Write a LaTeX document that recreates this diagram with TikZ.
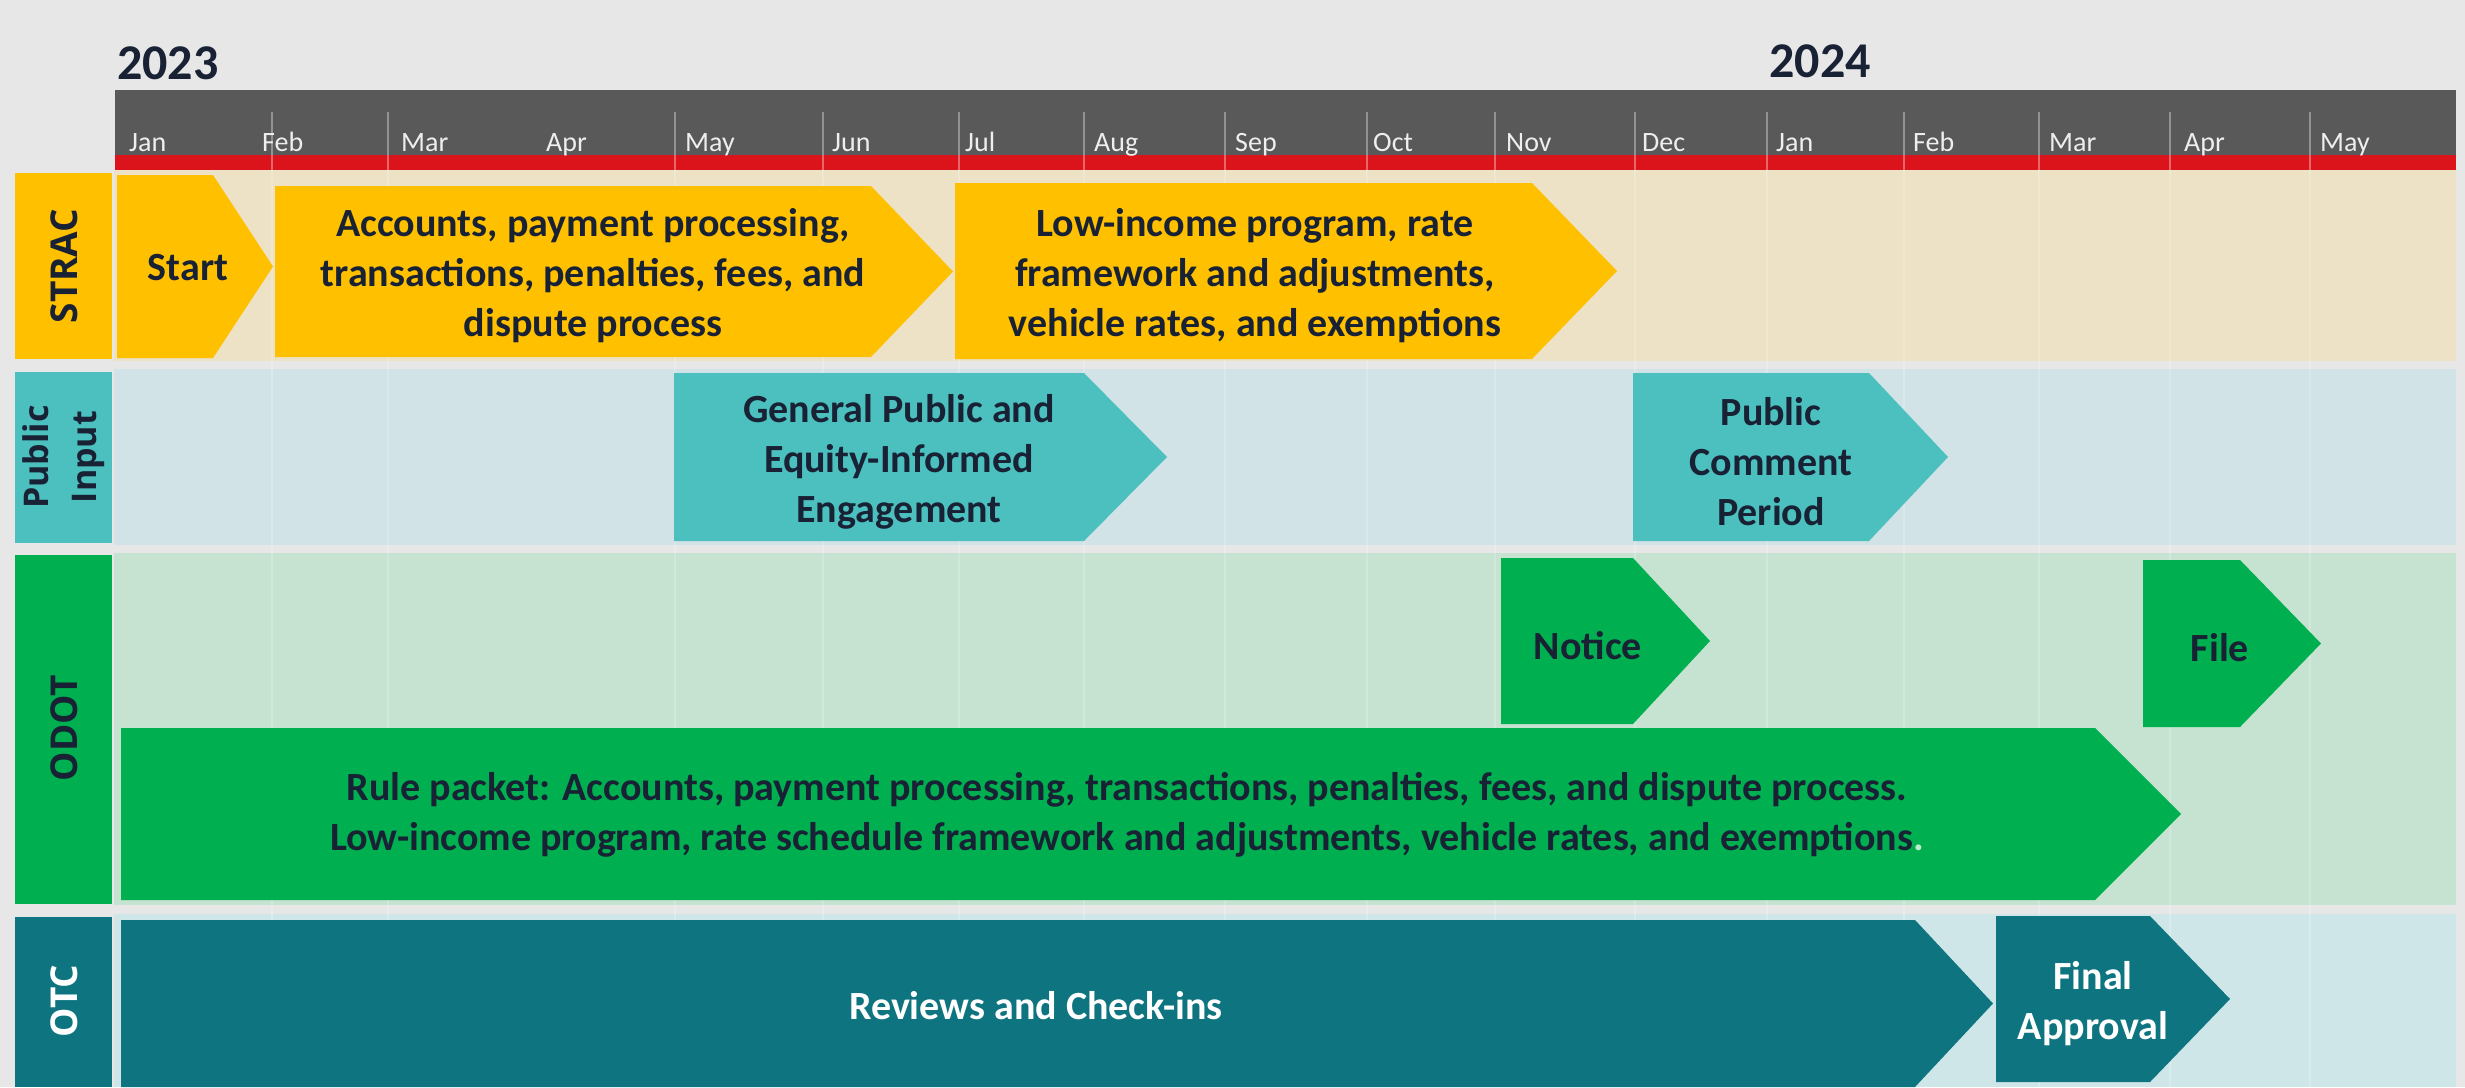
\documentclass[tikz,border=0pt]{standalone}
\usepackage{fontspec}
\setmainfont{Carlito}
\newfontfamily\lanefont{Open Sans}
\definecolor{pagebg}{RGB}{231,231,231}
\definecolor{hdrgray}{RGB}{89,89,89}
\definecolor{hdrred}{RGB}{218,20,26}
\definecolor{amber}{RGB}{255,192,0}
\definecolor{strbg}{RGB}{237,225,198}
\definecolor{teal}{RGB}{75,192,191}
\definecolor{pubbg}{RGB}{209,227,230}
\definecolor{odgreen}{RGB}{0,176,80}
\definecolor{odbg}{RGB}{197,227,208}
\definecolor{dkteal}{RGB}{14,116,128}
\definecolor{otcbg}{RGB}{207,230,233}
\definecolor{txtdark}{RGB}{24,34,52}
\definecolor{monthtxt}{RGB}{238,238,238}
\definecolor{faintdot}{RGB}{190,235,205}
\begin{document}
\begin{tikzpicture}[x=1pt,y=-1pt,
  boxtxt/.style={font=\bfseries\fontsize{40}{50}\selectfont, text=txtdark, align=center, inner sep=0pt},
  whitetxt/.style={boxtxt, text=white},
  monthlbl/.style={font=\fontsize{28}{30}\selectfont, text=monthtxt, anchor=base west, inner sep=0pt},
  yearlbl/.style={font=\bfseries\fontsize{50}{56}\selectfont, text=txtdark, inner sep=0pt},
  lanelbl/.style={font=\lanefont\bfseries\fontsize{37}{47}\selectfont, rotate=90, align=center, text=txtdark, inner sep=0pt},
  gridln/.style={white, opacity=0.35, line width=1.5pt},
  lanegrid/.style={white, opacity=0.2, line width=1.5pt}]
\useasboundingbox (0,0) rectangle (2465,1087);
\fill[pagebg] (0,0) rectangle (2465,1087);

% years
\node[yearlbl, anchor=base west] (y2023) at (117,79) {2023};
\node[yearlbl, anchor=base] (y2024) at (1820,77) {2024};

% header
\fill[hdrgray] (115,90) rectangle (2456,155);
\fill[hdrred] (115,155) rectangle (2456,170);
\foreach \gx in {272,388,675,823,959,1084,1225,1367,1495,1635,1767,1904,2039,2170,2310}
  \draw[gridln] (\gx,112) -- (\gx,170);

\node[monthlbl] (m1) at (129,151) {Jan};
\node[monthlbl] (m2) at (262,151) {Feb};
\node[monthlbl] (m3) at (401,151) {Mar};
\node[monthlbl] (m4) at (546,151) {Apr};
\node[monthlbl] (m5) at (685,151) {May};
\node[monthlbl] (m6) at (832,151) {Jun};
\node[monthlbl] (m7) at (965,151) {Jul};
\node[monthlbl] (m8) at (1094,151) {Aug};
\node[monthlbl] (m9) at (1235,151) {Sep};
\node[monthlbl] (m10) at (1373,151) {Oct};
\node[monthlbl] (m11) at (1506,151) {Nov};
\node[monthlbl] (m12) at (1642,151) {Dec};
\node[monthlbl] (m13) at (1776,151) {Jan};
\node[monthlbl] (m14) at (1913,151) {Feb};
\node[monthlbl] (m15) at (2049,151) {Mar};
\node[monthlbl] (m16) at (2184,151) {Apr};
\node[monthlbl] (m17) at (2320,151) {May};

% lane backgrounds
\fill[strbg] (114,170) rectangle (2456,361);
\fill[pubbg] (114,369) rectangle (2456,545);
\fill[odbg] (114,553) rectangle (2456,905);
\fill[otcbg] (114,914) rectangle (2456,1087);
\foreach \gx in {272,388,675,823,959,1084,1225,1367,1495,1635,1767,1904,2039,2170,2310}
  \draw[lanegrid] (\gx,170) -- (\gx,1087);

% lane labels
\fill[amber] (15,173) rectangle (112,359);
\fill[teal] (15,372) rectangle (112,543);
\fill[odgreen] (15,555) rectangle (112,904);
\fill[dkteal] (15,917) rectangle (112,1087);
\node[lanelbl] (lstrac) at (64,266) {STRAC};
\node[lanelbl, font=\lanefont\bfseries\fontsize{34}{48}\selectfont] (lpub) at (64,457) {Public\\Input};
\node[lanelbl] (lodot) at (64,728) {ODOT};
\node[lanelbl, text=white] (lotc) at (64,1001) {OTC};

% STRAC bars
\fill[amber] (117,175) -- (213,175) -- (273,266.5) -- (213,358) -- (117,358) -- cycle;
\fill[amber] (275,186) -- (871,186) -- (953,271.5) -- (871,357) -- (275,357) -- cycle;
\fill[amber] (955,183) -- (1532,183) -- (1617,271) -- (1532,359) -- (955,359) -- cycle;
\node[boxtxt] (start) at (188,268) {Start};
\node[boxtxt] (acct) at (593,276) {Accounts, payment processing,\\transactions,\ penalties, fees, and\\dispute process};
\node[boxtxt] (lowinc) at (1255,276) {Low-income program, rate\\framework and adjustments,\\vehicle rates, and exemptions};

% Public input bars
\fill[teal] (674,373) -- (1084,373) -- (1167,457) -- (1084,541) -- (674,541) -- cycle;
\fill[teal] (1633,373) -- (1869,373) -- (1948,457) -- (1869,541) -- (1633,541) -- cycle;
\node[boxtxt] (genpub) at (899,462) {General Public and\\Equity-Informed\\Engagement};
\node[boxtxt] (pubcom) at (1771,462) {Public\\Comment\\Period};

% ODOT bars
\fill[odgreen] (1501,558) -- (1633,558) -- (1710,641) -- (1633,724) -- (1501,724) -- cycle;
\fill[odgreen] (2143,560) -- (2240,560) -- (2321,643.5) -- (2240,727) -- (2143,727) -- cycle;
\fill[odgreen] (121,728) -- (2095,728) -- (2181,814) -- (2095,900) -- (121,900) -- cycle;
\node[boxtxt] (notice) at (1588,646) {Notice};
\node[boxtxt] (file) at (2220,648) {File};
\node[boxtxt] (rule) at (1127,815) {Rule packet: Accounts, payment processing,\ transactions,\ penalties, fees, and dispute process.\\Low-income\ program,\ rate schedule framework and adjustments,\ vehicle rates, and exemptions{\color{faintdot}.}};

% OTC bars
\fill[dkteal] (121,920) -- (1915,920) -- (1993,1003.5) -- (1915,1087) -- (121,1087) -- cycle;
\fill[dkteal] (1996,916) -- (2150,916) -- (2230,999) -- (2150,1082) -- (1996,1082) -- cycle;
\node[whitetxt] (reviews) at (1036,1006) {Reviews and Check-ins};
\node[whitetxt] (final) at (2093,1004) {Final\\Approval};
\end{tikzpicture}
\end{document}
